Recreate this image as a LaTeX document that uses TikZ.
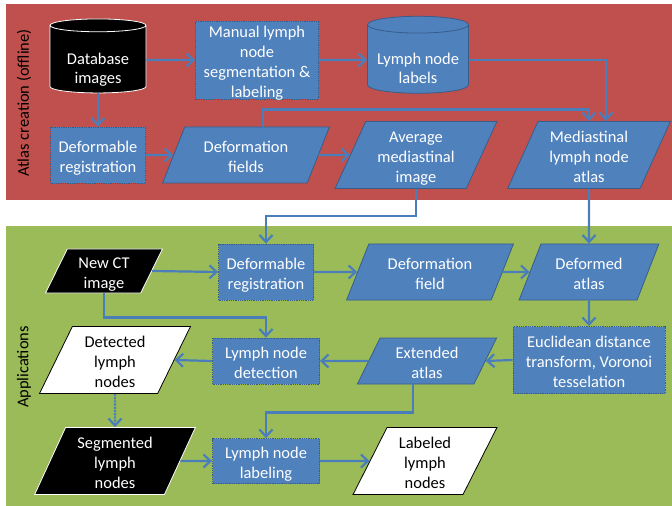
\documentclass[tikz,border=0pt]{standalone}
\usepackage{fontspec}
\setmainfont{Carlito}
\usetikzlibrary{shapes.geometric,arrows.meta}
\definecolor{panelred}{HTML}{C0504D}
\definecolor{panelgreen}{HTML}{9BBB59}
\definecolor{boxblue}{HTML}{4F81BD}
\definecolor{edgeblue}{HTML}{385D8A}
\definecolor{linkblue}{HTML}{4A7EBB}

\begin{document}
\begin{tikzpicture}[
    x=1bp, y=-1bp,
    >={Straight Barb[length=7bp,width=13bp]},
    every node/.style={font=\fontsize{16.5}{20}\selectfont, align=center, inner sep=1bp},
    lines/.style={text depth=0pt, text height={\dimexpr 20bp*#1-5bp\relax}},
    proc/.style={rectangle, fill=boxblue, draw=edgeblue, densely dotted, thick, text=white},
    data/.style={trapezium, trapezium left angle=67, trapezium right angle=113,
                 trapezium stretches=true, fill=boxblue, draw=edgeblue, thick, text=white},
    store/.style={cylinder, shape border rotate=90, aspect=0.2, fill=boxblue,
                  draw=edgeblue, thick, text=white, text depth=0pt, text height=48bp},
    link/.style={->, draw=linkblue, line width=2.2bp}
]
\useasboundingbox (0,0) rectangle (672,506);

% panels
\fill[panelred]   (6,4)   rectangle (672,200);
\fill[panelgreen] (6,226) rectangle (672,506);
\node (atlaslbl) [rotate=90] at (24,103) {Atlas creation (offline)};
\node (applbl)   [rotate=90] at (24,367) {Applications};

% atlas creation
\node (db)     [store, fill=black, draw=white, minimum width=96bp, minimum height=74bp] at (98,60) {Database\\images};
\node (manual) [proc, lines=4, minimum width=123bp, minimum height=78bp] at (257,60) {Manual lymph\\node\\segmentation \&\\labeling};
\node (labels) [store, minimum width=101bp, minimum height=77bp] at (418,60) {Lymph node\\labels};
\node (reg1)   [proc, lines=2, minimum width=95bp, minimum height=56bp] at (98,155) {Deformable\\registration};
\node (fields) [data, lines=2, minimum width=167bp, minimum height=56bp] at (246,155) {Deformation\\fields};
\node (avg)    [data, lines=3, minimum width=162bp, minimum height=67bp] at (416,155) {Average\\mediastinal\\image};
\node (atlas)  [data, lines=3, minimum width=163bp, minimum height=67bp] at (589,155) {Mediastinal\\lymph node\\atlas};

% applications
\node (newct)     [data, lines=2, fill=black, draw=white, minimum width=118bp, minimum height=44bp] at (104,271) {New CT\\image};
\node (reg2)      [proc, lines=2, minimum width=95bp, minimum height=56bp] at (266,272) {Deformable\\registration};
\node (field2)    [data, lines=2, minimum width=167bp, minimum height=56bp] at (430,272) {Deformation\\field};
\node (deformed)  [data, lines=2, minimum width=140bp, minimum height=56bp] at (589,272) {Deformed\\atlas};
\node (euclid)    [proc, lines=3, minimum width=152bp, minimum height=67bp] at (589,360) {Euclidean distance\\transform, Voronoi\\tesselation};
\node (extended)  [data, lines=2, minimum width=140bp, minimum height=46bp] at (427,361) {Extended\\atlas};
\node (detect)    [proc, lines=2, minimum width=107bp, minimum height=46bp] at (266,361) {Lymph node\\detection};
\node (detected)  [data, lines=3, fill=white, draw=black, text=black, minimum width=151bp, minimum height=67bp] at (115,360) {Detected\\lymph\\nodes};
\node (segmented) [data, lines=3, fill=black, draw=white, minimum width=161bp, minimum height=67bp] at (115,461) {Segmented\\lymph\\nodes};
\node (labeling)  [proc, lines=2, minimum width=107bp, minimum height=45bp] at (266,461) {Lymph node\\labeling};
\node (labeled)   [data, lines=3, fill=white, draw=black, text=black, minimum width=144bp, minimum height=67bp] at (425,461) {Labeled\\lymph\\nodes};

% Edges
\draw[link] (db) -- (manual);
\draw[link] (manual) -- (labels);
\draw[link] (labels.east) -| ([xshift=17bp]atlas.north);
\draw[link] (db) -- (reg1);
\draw[link] (reg1) -- (fields.west);
\draw[link] (fields.east) -- (avg.west);
\draw[link] ([xshift=17bp]fields.north) -- ++(0,-17) -| (atlas.north);
\draw[link] (avg.south) -- ++(0,27) -| (reg2.north);
\draw[link] (atlas.south) -- (deformed.north);

\draw[link] (newct.east) -- (reg2.west);
\draw[link] (newct.south) -- ++(0,24) -| (detect.north);
\draw[link] (reg2.east) -- (field2.west);
\draw[link] (field2.east) -- (deformed.west);
\draw[link] (deformed.south) -- (euclid.north);
\draw[link] (euclid.west) -- (extended.east);
\draw[link] (extended.west) -- (detect.east);
\draw[link] (detect.west) -- (detected.east);
\draw[link, densely dotted] (detected.south) -- (segmented.north);
\draw[link] ([xshift=-14bp]extended.south) -- ++(0,28) -| (labeling.north);
\draw[link] (segmented.east) -- (labeling.west);
\draw[link] (labeling.east) -- (labeled.west);

\end{tikzpicture}
\end{document}
